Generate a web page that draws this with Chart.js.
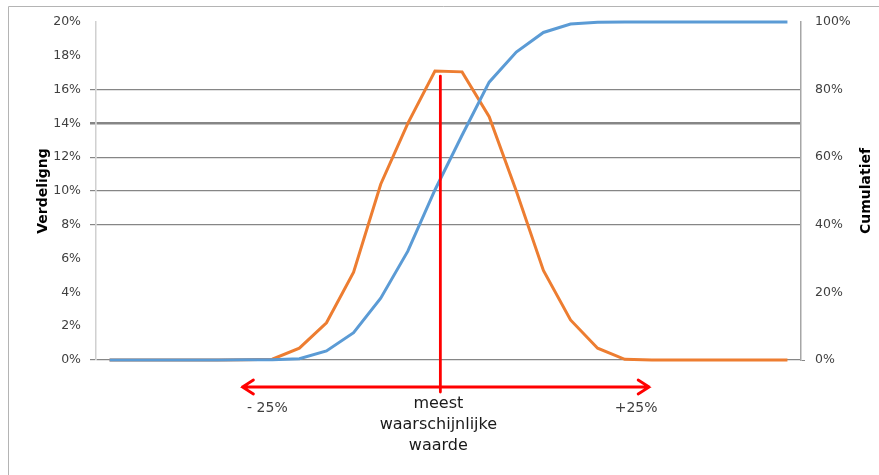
<!DOCTYPE html>
<html>
<head>
<meta charset="utf-8">
<script src="https://cdn.jsdelivr.net/npm/chart.js@4.4.1/dist/chart.umd.min.js"></script>
<style>
    body { margin: 0; background: #fff; }
    canvas { display: block; }
</style>
</head>
<body>
<canvas id="chart" width="879" height="475"></canvas>
<script>
// categories (steps of the spread, not labelled in the picture)
const categories = ['1', '2', '3', '4', '5', '6', '7', '8', '9', '10', '11', '12', '13',
    '14', '15', '16', '17', '18', '19', '20', '21', '22', '23', '24', '25', '26'];

// distribution, left axis (%)
const verdeling = [0, 0, 0, 0, 0, 0.02, 0.05, 0.7, 2.2, 5.2, 10.4, 14.0, 17.1,
    17.05, 14.4, 10.0, 5.3, 2.37, 0.7, 0.04, 0, 0, 0, 0, 0, 0];

// cumulative, right axis (%)
const cumulatief = [0, 0, 0, 0, 0, 0.05, 0.1, 0.4, 2.7, 8.1, 18.3, 32.2, 50.3,
    66.5, 82.2, 91.1, 96.9, 99.4, 99.9, 100, 100, 100, 100, 100, 100, 100];

const leftTicks = [0, 2, 4, 6, 8, 10, 12, 14, 16, 18, 20];
const visibleGrid = [0, 8, 10, 12, 14, 16];

// annotation: most likely value and the -25% / +25% range (category index units)
const markerIndex = 12.2;
const markerTop = 16.8;
const rangeFrom = 4.9;
const rangeTo = 19.9;

const annotations = {
    id: 'annotations',
    beforeDraw(chart) {
        const ctx = chart.ctx;
        ctx.save();
        ctx.strokeStyle = '#b4b4b4';
        ctx.lineWidth = 1;
        ctx.beginPath();
        ctx.moveTo(8.5, chart.height);
        ctx.lineTo(8.5, 6.5);
        ctx.lineTo(chart.width, 6.5);
        ctx.stroke();
        ctx.restore();
    },
    afterDatasetsDraw(chart) {
        const ctx = chart.ctx;
        const x = chart.scales.x;
        const y = chart.scales.y;
        const area = chart.chartArea;
        const mx = x.getPixelForValue(markerIndex);
        const ay = area.bottom + 27;
        const x1 = x.getPixelForValue(rangeFrom);
        const x2 = x.getPixelForValue(rangeTo);

        ctx.save();
        ctx.strokeStyle = '#ff0000';
        ctx.lineWidth = 2.8;
        ctx.lineCap = 'round';
        ctx.beginPath();
        ctx.moveTo(mx, y.getPixelForValue(markerTop));
        ctx.lineTo(mx, area.bottom + 32);
        ctx.stroke();

        ctx.beginPath();
        ctx.moveTo(x1, ay);
        ctx.lineTo(x2, ay);
        ctx.moveTo(x1 + 11, ay - 7);
        ctx.lineTo(x1, ay);
        ctx.lineTo(x1 + 11, ay + 7);
        ctx.moveTo(x2 - 11, ay - 7);
        ctx.lineTo(x2, ay);
        ctx.lineTo(x2 - 11, ay + 7);
        ctx.stroke();

        ctx.textAlign = 'center';
        ctx.textBaseline = 'alphabetic';
        ctx.fillStyle = '#404040';
        ctx.font = '14px "DejaVu Sans"';
        ctx.fillText('- 25%', x1 + 25, area.bottom + 52);
        ctx.fillText('+25%', x2 - 13, area.bottom + 52);

        ctx.fillStyle = '#1a1a1a';
        ctx.font = '16px "DejaVu Sans"';
        ctx.fillText('meest', mx - 2, area.bottom + 48);
        ctx.fillText('waarschijnlijke', mx - 2, area.bottom + 69);
        ctx.fillText('waarde', mx - 2, area.bottom + 90);

        // axis titles, both read bottom to top
        const cy = (area.top + area.bottom) / 2;
        ctx.fillStyle = '#000';
        ctx.font = 'bold 14px "DejaVu Sans"';
        ctx.textBaseline = 'middle';
        ctx.translate(43, cy);
        ctx.rotate(-Math.PI / 2);
        ctx.fillText('Verdeligng', 0, 0);
        ctx.rotate(Math.PI / 2);
        ctx.translate(866 - 43, 0);
        ctx.rotate(-Math.PI / 2);
        ctx.fillText('Cumulatief', 0, 0);
        ctx.restore();
    }
};

new Chart(document.getElementById('chart'), {
    type: 'line',
    data: {
        labels: categories,
        datasets: [
            {
                label: 'Verdeling',
                data: verdeling,
                yAxisID: 'y',
                borderColor: '#ed7d31',
                borderWidth: 3,
                pointRadius: 0,
                tension: 0,
                clip: false,
                order: 1
            },
            {
                label: 'Cumulatief',
                data: cumulatief,
                yAxisID: 'y1',
                borderColor: '#5b9bd5',
                borderWidth: 3,
                pointRadius: 0,
                tension: 0,
                clip: false,
                order: 0
            }
        ]
    },
    options: {
        responsive: false,
        animation: false,
        layout: {
            padding: { top: 22, bottom: 115, left: 0, right: 0 }
        },
        plugins: {
            legend: { display: false },
            tooltip: { enabled: false }
        },
        scales: {
            x: {
                display: false,
                offset: true
            },
            y: {
                position: 'left',
                min: 0,
                max: 20,
                afterBuildTicks: (scale) => {
                    scale.ticks = leftTicks.map(v => ({ value: v }));
                },
                afterFit: (scale) => { scale.width = 96; },
                ticks: {
                    padding: 9,
                    color: '#404040',
                    font: { family: '"DejaVu Sans"', size: 12.5 },
                    callback: v => v + '%'
                },
                grid: {
                    tickLength: 6,
                    color: c => visibleGrid.includes(c.tick.value) ? '#868686' : 'rgba(0,0,0,0)',
                    lineWidth: c => c.tick.value === 14 ? 2.5 : 1.2
                },
                border: { color: '#d0d0d0', width: 1.5 }
            },
            y1: {
                position: 'right',
                min: 0,
                max: 100,
                afterFit: (scale) => { scale.width = 78; },
                ticks: {
                    stepSize: 20,
                    padding: 10,
                    color: '#404040',
                    font: { family: '"DejaVu Sans"', size: 12.5 },
                    callback: v => v + '%'
                },
                grid: {
                    drawOnChartArea: false,
                    tickLength: 4,
                    color: c => c.tick.value === 0 ? '#868686' : 'rgba(0,0,0,0)'
                },
                border: { color: '#a6a6a6', width: 1.5 }
            }
        }
    },
    plugins: [annotations]
});
</script>
</body>
</html>
